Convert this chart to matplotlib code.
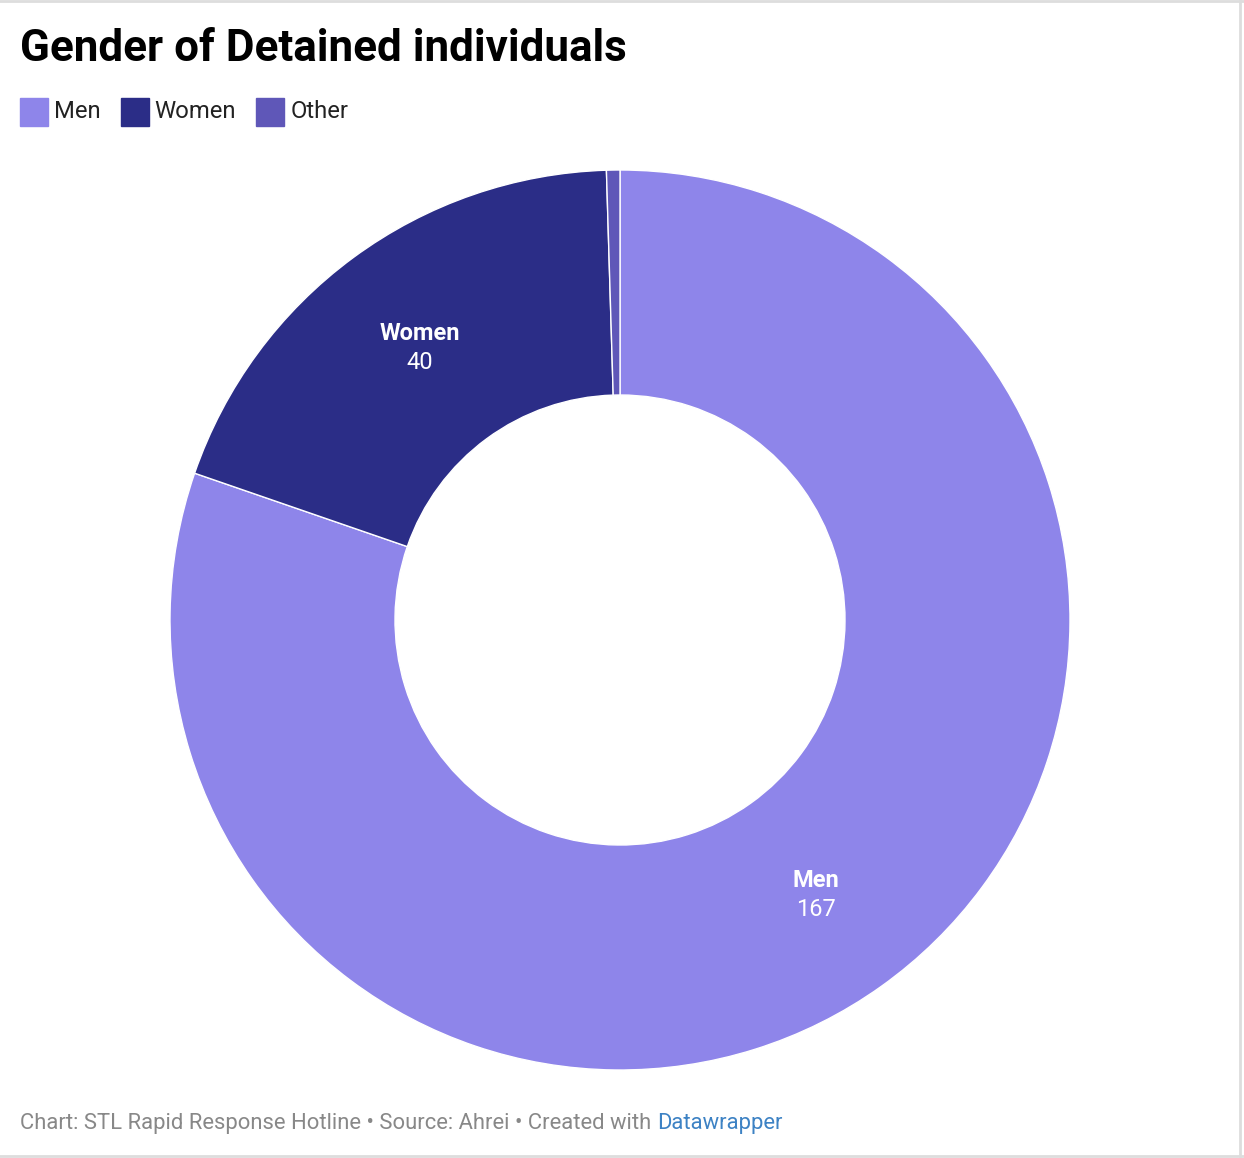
import numpy as np
import matplotlib
matplotlib.use("Agg")
import matplotlib.pyplot as plt
from matplotlib.patches import Rectangle
from matplotlib.lines import Line2D

# data
categories = ["Men", "Women", "Other"]
counts = [167, 40, 1]
colors = ["#8E85EA", "#2B2D87", "#5F57B8"]
labeled = ["Men", "Women"]

plt.rcParams["font.family"] = ["Roboto", "DejaVu Sans"]

W, H = 1244, 1158
fig = plt.figure(figsize=(W / 100, H / 100), dpi=100)

# donut centred at (620, 620) px, outer radius 450 px
cx, cy, r = 620, 620, 450
ax = fig.add_axes([(cx - r) / W, (H - cy - r) / H, 2 * r / W, 2 * r / H])
wedges, _ = ax.pie(counts, colors=colors, startangle=90, counterclock=False,
                   radius=1, wedgeprops=dict(width=0.5, edgecolor="white", linewidth=1))
ax.set_xlim(-1, 1)
ax.set_ylim(-1, 1)
ax.set_aspect("equal")
ax.axis("off")

for w, name, val in zip(wedges, categories, counts):
    if name not in labeled:
        continue
    mid = np.deg2rad((w.theta1 + w.theta2) / 2)
    x, y = 0.75 * np.cos(mid), 0.75 * np.sin(mid)
    ax.text(x, y + 0.032, name, ha="center", va="center", color="white",
            fontsize=17, fontweight="bold")
    ax.text(x, y - 0.032, str(val), ha="center", va="center", color="white",
            fontsize=17)

# title
fig.text(20 / W, 1 - 49 / H, "Gender of Detained individuals", fontsize=31.7,
         fontweight="bold", va="center", ha="left", color="black")

# legend
fig.canvas.draw()
renderer = fig.canvas.get_renderer()
x = 20
for name, col in zip(categories, colors):
    fig.patches.append(Rectangle((x / W, 1 - 126 / H), 28 / W, 28 / H,
                                 transform=fig.transFigure, color=col))
    t = fig.text((x + 34) / W, 1 - 112 / H, name, fontsize=17.2, va="center",
                 ha="left", color="#222222")
    bb = t.get_window_extent(renderer)
    x = bb.x1 + 20

# footer
t1 = fig.text(20 / W, 1 - 1123 / H,
              "Chart: STL Rapid Response Hotline \u2022 Source: Ahrei \u2022 Created with ",
              fontsize=15.8, va="center", ha="left", color="#888888")
bb = t1.get_window_extent(renderer)
fig.text(bb.x1 / W, 1 - 1123 / H, "Datawrapper", fontsize=15.8, va="center",
         ha="left", color="#3D82C4")

# thin frame seen in the screenshot
border = "#DDDDDD"
fig.lines.append(Line2D([0, 1], [1 - 1 / H, 1 - 1 / H], transform=fig.transFigure, color=border, lw=2))
fig.lines.append(Line2D([1240 / W, 1240 / W], [0, 1], transform=fig.transFigure, color=border, lw=2))
fig.lines.append(Line2D([0, 1], [1 - 1156 / H, 1 - 1156 / H], transform=fig.transFigure, color=border, lw=2))

fig.savefig("out.png", dpi=100, facecolor="white")
